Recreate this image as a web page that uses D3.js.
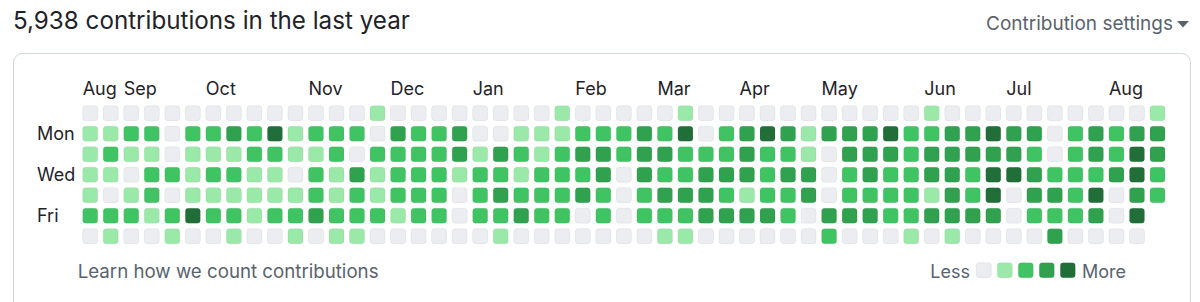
<!DOCTYPE html>
<html>
<head>
<meta charset="utf-8">
<script src="https://cdn.jsdelivr.net/npm/d3@7"></script>
<style>
	html, body { margin: 0; padding: 0; background: #fff; }
	svg { display: block; font-family: Inter, "Liberation Sans", sans-serif; }
</style>
</head>
<body>
<svg id="chart" width="1200" height="302"></svg>
<script>
// contribution level (0-4) per week, one array per weekday
const sunLevels = [0,0,0,0,0,0,0,0,0,0,0,0,0,0,1,0,0,0,0,0,0,0,0,1,0,0,0,0,0,1,0,0,0,0,0,0,0,0,0,0,0,1,0,0,0,0,0,0,0,0,0,0,1];
const monLevels = [1,1,2,2,0,2,2,3,2,4,1,2,2,2,0,3,2,2,3,0,0,1,1,1,2,2,2,3,2,4,0,2,3,4,3,1,3,3,3,4,2,2,3,3,4,3,3,0,2,3,2,3,3];
const tueLevels = [1,2,1,1,0,1,1,1,2,2,1,1,2,0,2,2,2,2,3,1,3,2,1,2,3,3,2,3,3,2,2,2,3,2,2,1,0,3,3,3,2,3,3,3,3,3,2,0,2,3,2,4,3];
const wedLevels = [1,1,0,2,2,1,2,2,1,1,0,2,1,3,1,2,2,2,1,2,2,1,2,2,2,3,0,3,2,2,3,3,3,2,3,3,0,2,3,2,2,3,3,2,4,4,3,2,2,2,3,4,2];
const thuLevels = [1,0,1,2,0,1,1,1,1,1,1,2,1,2,1,2,2,2,0,2,3,2,2,2,3,2,0,2,3,3,3,2,1,2,2,3,0,2,2,2,2,1,3,2,4,0,3,3,2,4,0,3,2];
const friLevels = [2,2,2,1,2,4,2,2,1,2,2,3,2,2,2,1,2,2,0,2,2,3,2,2,0,2,0,2,2,2,3,3,3,3,2,0,3,3,3,2,2,3,3,3,3,0,2,2,2,3,0,4];
const satLevels = [0,1,0,0,1,0,0,1,0,0,1,0,1,1,0,0,0,0,0,0,1,0,0,0,0,0,0,0,1,1,0,0,0,0,0,0,2,0,0,0,1,0,1,0,0,0,0,3,0,0,0,0];

const weekdayRows = [sunLevels, monLevels, tueLevels, wedLevels, thuLevels, friLevels, satLevels];
const dayLabels = [{ row: 1, name: "Mon" }, { row: 3, name: "Wed" }, { row: 5, name: "Fri" }];
const monthLabels = [
	{ week: 0, name: "Aug" }, { week: 2, name: "Sep" }, { week: 6, name: "Oct" },
	{ week: 11, name: "Nov" }, { week: 15, name: "Dec" }, { week: 19, name: "Jan" },
	{ week: 24, name: "Feb" }, { week: 28, name: "Mar" }, { week: 32, name: "Apr" },
	{ week: 36, name: "May" }, { week: 41, name: "Jun" }, { week: 45, name: "Jul" },
	{ week: 50, name: "Aug" }
];
const levels = [0, 1, 2, 3, 4];
const levelColors = ["#ebedf0", "#9be9a8", "#40c463", "#30a14e", "#216e39"];

const svg = d3.select("#chart");
const cellSize = 15;

const x = d3.scaleLinear().domain([0, 52]).range([82.7, 1150]);
const y = d3.scaleLinear().domain([0, 6]).range([105.7, 228.7]);
const color = d3.scaleOrdinal().domain(levels).range(levelColors);

// header
svg.append("text")
	.attr("x", 13)
	.attr("y", 29)
	.attr("font-size", 24.2)
	.attr("fill", "#1f2328")
	.text("5,938 contributions in the last year");

let settings = svg.append("text")
	.attr("x", 986)
	.attr("y", 30)
	.attr("font-size", 19)
	.attr("fill", "#59636e")
	.text("Contribution settings");
let sw = settings.node().getComputedTextLength();
svg.append("path")
	.attr("d", d3.line()([[986 + sw + 4, 21], [986 + sw + 16, 21], [986 + sw + 10, 27.5]]) + "Z")
	.attr("fill", "#59636e");

// box
svg.append("rect")
	.attr("x", 13.5)
	.attr("y", 53.5)
	.attr("width", 1177)
	.attr("height", 270)
	.attr("rx", 9)
	.attr("fill", "none")
	.attr("stroke", "#d0d7de");

// month + day labels
svg.append("g")
	.selectAll("text")
	.data(monthLabels)
	.enter()
	.append("text")
	.attr("x", d => x(d.week))
	.attr("y", 94.5)
	.attr("font-size", 18)
	.attr("fill", "#1f2328")
	.text(d => d.name);

svg.append("g")
	.selectAll("text")
	.data(dayLabels)
	.enter()
	.append("text")
	.attr("x", 37)
	.attr("y", d => y(d.row) + cellSize / 2 + 6.5)
	.attr("font-size", 18)
	.attr("fill", "#1f2328")
	.text(d => d.name);

// cells
let cells = [];
weekdayRows.forEach(function(row, day) {
	row.forEach(function(level, week) {
		cells.push({ day: day, week: week, level: level });
	});
});

svg.append("g")
	.selectAll("rect")
	.data(cells)
	.enter()
	.append("rect")
	.attr("x", d => x(d.week))
	.attr("y", d => y(d.day))
	.attr("width", cellSize)
	.attr("height", cellSize)
	.attr("rx", 3)
	.attr("fill", d => color(d.level))
	.attr("stroke", "rgba(27,31,35,0.06)")
	.attr("stroke-width", 1);

// footer
svg.append("text")
	.attr("x", 77.7)
	.attr("y", 278)
	.attr("font-size", 18.7)
	.attr("fill", "#59636e")
	.text("Learn how we count contributions");

let legendX = d3.scaleLinear().domain([0, 4]).range([976.3, 1060.3]);
svg.append("text")
	.attr("x", 970)
	.attr("y", 278)
	.attr("text-anchor", "end")
	.attr("font-size", 18)
	.attr("fill", "#59636e")
	.text("Less");
svg.append("g")
	.selectAll("rect")
	.data(levels)
	.enter()
	.append("rect")
	.attr("x", d => legendX(d))
	.attr("y", 262.7)
	.attr("width", cellSize)
	.attr("height", cellSize)
	.attr("rx", 3)
	.attr("fill", d => color(d))
	.attr("stroke", "rgba(27,31,35,0.06)");
svg.append("text")
	.attr("x", 1082)
	.attr("y", 278)
	.attr("font-size", 18)
	.attr("fill", "#59636e")
	.text("More");
</script>
</body>
</html>
